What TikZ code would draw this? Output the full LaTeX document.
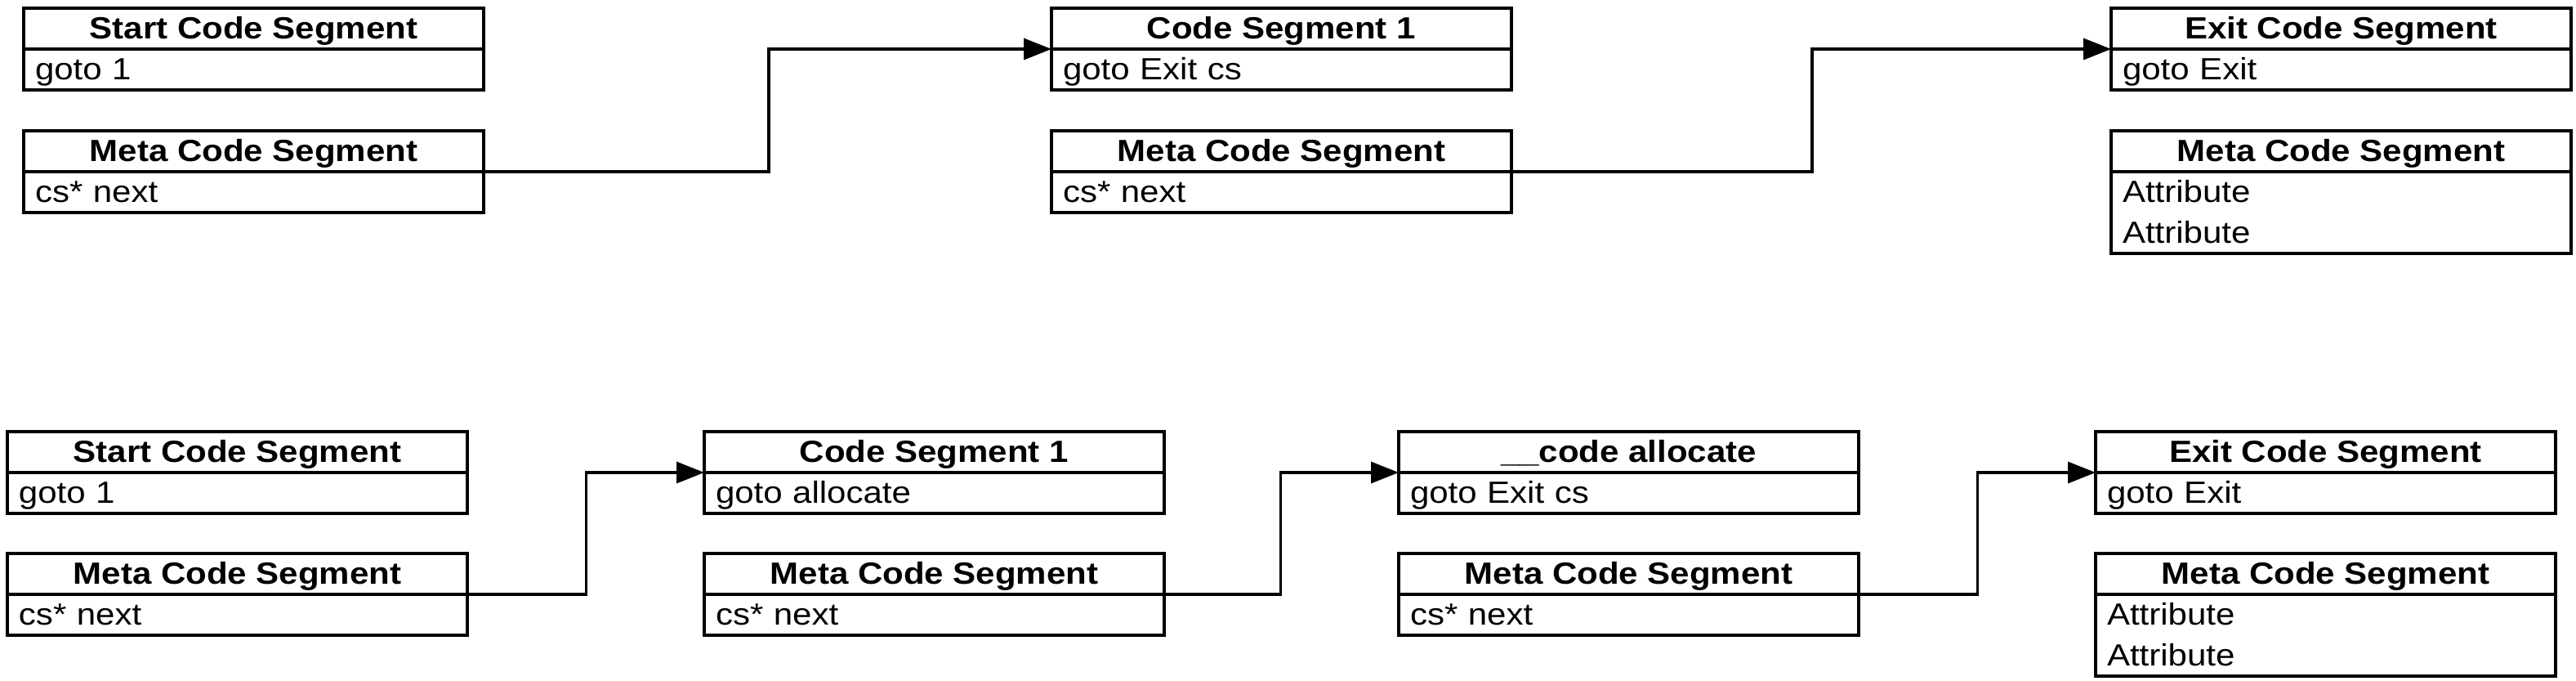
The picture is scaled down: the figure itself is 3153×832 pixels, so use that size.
\documentclass[tikz,border=0pt]{standalone}
\usepackage{fontspec}
\setmainfont{Liberation Sans}[FakeStretch=1.12]
\usetikzlibrary{arrows.meta}
\begin{document}
\begin{tikzpicture}[x=0.5pt,y=-0.5pt,
  every node/.style={font=\fontsize{18.75pt}{25pt}\selectfont},
  hdr/.style={draw, line width=1.7pt, inner sep=0pt, outer sep=0pt,
    minimum width=281.5pt, minimum height=25pt,
    text height=18.75pt, text depth=6.25pt,
    font=\fontsize{18.75pt}{25pt}\selectfont\bfseries, anchor=north west},
  body/.style={draw, line width=1.7pt, inner xsep=7pt, inner ysep=0pt,
    outer sep=0pt, text width=267.5pt, align=left,
    text height=18.75pt, text depth=6.25pt, anchor=north west},
  body2/.style={body, text depth=31.25pt},
  conn/.style={line width=1.7pt, -{Triangle[length=17pt,width=13pt]}}
]
\useasboundingbox (0,0) rectangle (3153,832);
% ---------- top row ----------
\node[hdr] (sA) at (29,10) {Start Code Segment};
\node[body] (sAb) at (sA.south west) {goto 1};
\node[hdr] (mA) at (29,160) {Meta Code Segment};
\node[body] (mAb) at (mA.south west) {cs* next};

\node[hdr] (cA) at (1287,10) {Code Segment 1};
\node[body] (cAb) at (cA.south west) {goto Exit cs};
\node[hdr] (mB) at (1287,160) {Meta Code Segment};
\node[body] (mBb) at (mB.south west) {cs* next};

\node[hdr] (eA) at (2584,10) {Exit Code Segment};
\node[body] (eAb) at (eA.south west) {goto Exit};
\node[hdr] (mC) at (2584,160) {Meta Code Segment};
\node[body2] (mCb) at (mC.south west) {Attribute\\Attribute};

\coordinate (v1) at (941,0);
\coordinate (v2) at (2218,0);
\draw[conn] (mA.south east) -- (mA.south east -| v1) |- (cA.south west);
\draw[conn] (mB.south east) -- (mB.south east -| v2) |- (eA.south west);

% ---------- bottom row ----------
\node[hdr] (sD) at (9,528) {Start Code Segment};
\node[body] (sDb) at (sD.south west) {goto 1};
\node[hdr] (mD) at (9,677) {Meta Code Segment};
\node[body] (mDb) at (mD.south west) {cs* next};

\node[hdr] (cE) at (862,528) {Code Segment 1};
\node[body] (cEb) at (cE.south west) {goto allocate};
\node[hdr] (mE) at (862,677) {Meta Code Segment};
\node[body] (mEb) at (mE.south west) {cs* next};

\node[hdr] (aF) at (1712,528) {\_\_code allocate};
\node[body] (aFb) at (aF.south west) {goto Exit cs};
\node[hdr] (mF) at (1712,677) {Meta Code Segment};
\node[body] (mFb) at (mF.south west) {cs* next};

\node[hdr] (eG) at (2565,528) {Exit Code Segment};
\node[body] (eGb) at (eG.south west) {goto Exit};
\node[hdr] (mG) at (2565,677) {Meta Code Segment};
\node[body2] (mGb) at (mG.south west) {Attribute\\Attribute};

\coordinate (v3) at (717.5,0);
\coordinate (v4) at (1567.5,0);
\coordinate (v5) at (2420.5,0);
\draw[conn] (mD.south east) -- (mD.south east -| v3) |- (cE.south west);
\draw[conn] (mE.south east) -- (mE.south east -| v4) |- (aF.south west);
\draw[conn] (mF.south east) -- (mF.south east -| v5) |- (eG.south west);
\end{tikzpicture}
\end{document}
